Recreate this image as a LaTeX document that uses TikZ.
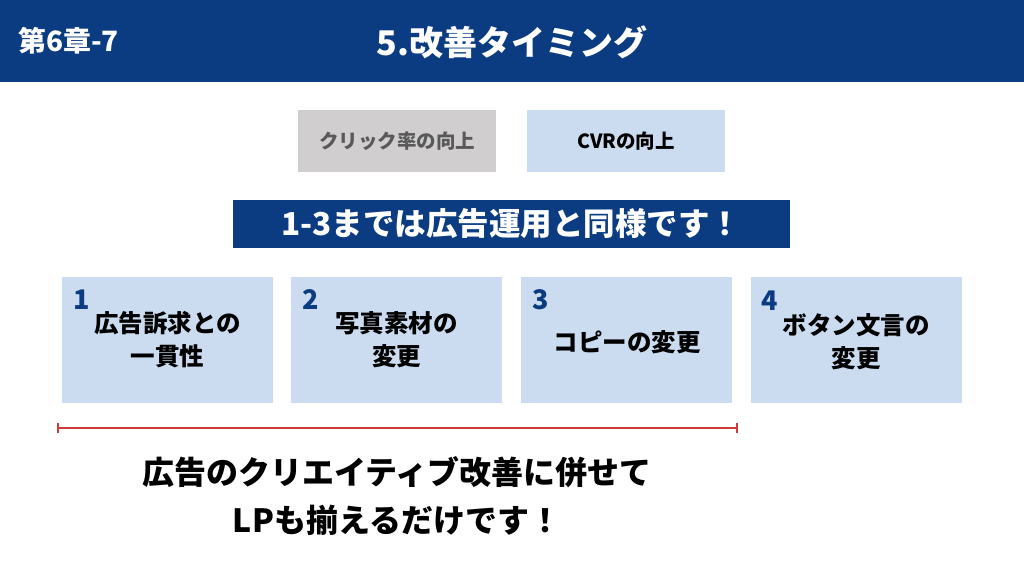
\documentclass[tikz,border=0pt]{standalone}
\usepackage{fontspec}
\setmainfont{Noto Sans CJK JP}
\usetikzlibrary{arrows.meta}
\definecolor{navy}{HTML}{0B3B80}
\definecolor{lightblue}{HTML}{CCDCF0}
\definecolor{lightgray}{HTML}{D0CECE}
\definecolor{graytext}{HTML}{595959}
\definecolor{redline}{HTML}{D03A3A}
\newcommand{\fs}[2]{\fontsize{#1}{#2}\selectfont}
\begin{document}
\begin{tikzpicture}[x=1pt,y=-1pt,
  box/.style={rectangle,fill=lightblue,minimum width=211pt,minimum height=126pt,inner sep=0pt},
  tag/.style={rectangle,minimum width=198pt,minimum height=62pt,inner sep=0pt,font=\bfseries\fs{19.5}{22}},
  boxtext/.style={align=center,inner sep=0pt,font=\bfseries\fs{24.5}{33},text=black},
  num/.style={inner sep=0pt,font=\bfseries\fs{27}{30},text=navy},
  bar/.style={draw=redline,line width=2.2pt,{Bar[width=10pt,line width=2.2pt]}-{Bar[width=10pt,line width=2.2pt]}}
]
\useasboundingbox (0,0) rectangle (1024,576);
\fill[white] (0,0) rectangle (1024,576);
% header
\fill[navy] (0,0) rectangle (1024,82);
\node[anchor=west,inner sep=0pt,text=white,font=\bfseries\fs{28}{30}] (chap) at (18,41) {第6章-7};
\node[inner sep=0pt,text=white,font=\bfseries\fs{34}{38}] (title) at (512,42) {5.改善タイミング};
% tags
\node[tag,fill=lightgray,text=graytext] (ctr) at (397,141) {クリック率の向上};
\node[tag,fill=lightblue,text=black] (cvr) at (626,141) {CVRの向上};
% banner
\node[rectangle,fill=navy,minimum width=557pt,minimum height=48pt,inner sep=0pt,text=white,font=\bfseries\fs{31.5}{34}] (banner) at (511.5,224) {1-3までは広告運用と同様です！};
% boxes
\node[box] (b1) at (167.5,340) {};
\node[box] (b2) at (396.5,340) {};
\node[box] (b3) at (626,340) {};
\node[box] (b4) at (856,340) {};
\node[num] (n1) at (82,300) {1};
\node[num] (n2) at (311,300) {2};
\node[num] (n3) at (541,300) {3};
\node[num] (n4) at (770,301) {4};
\node[boxtext] (t1) at (167.5,340) {広告訴求との\\一貫性};
\node[boxtext] (t2) at (396.5,340) {写真素材の\\変更};
\node[boxtext] (t3) at (627,342) {コピーの変更};
\node[boxtext] (t4) at (856,342) {ボタン文言の\\変更};
% red range
\coordinate (rl) at (57,428);
\coordinate (rr) at (738,428);
\draw[bar] (rl) -- (rr);
% bottom text
\node[align=center,inner sep=0pt,font=\bfseries\fs{32}{48}] (concl) at (397,496) {広告のクリエイティブ改善に併せて\\LPも揃えるだけです！};
\end{tikzpicture}
\end{document}
